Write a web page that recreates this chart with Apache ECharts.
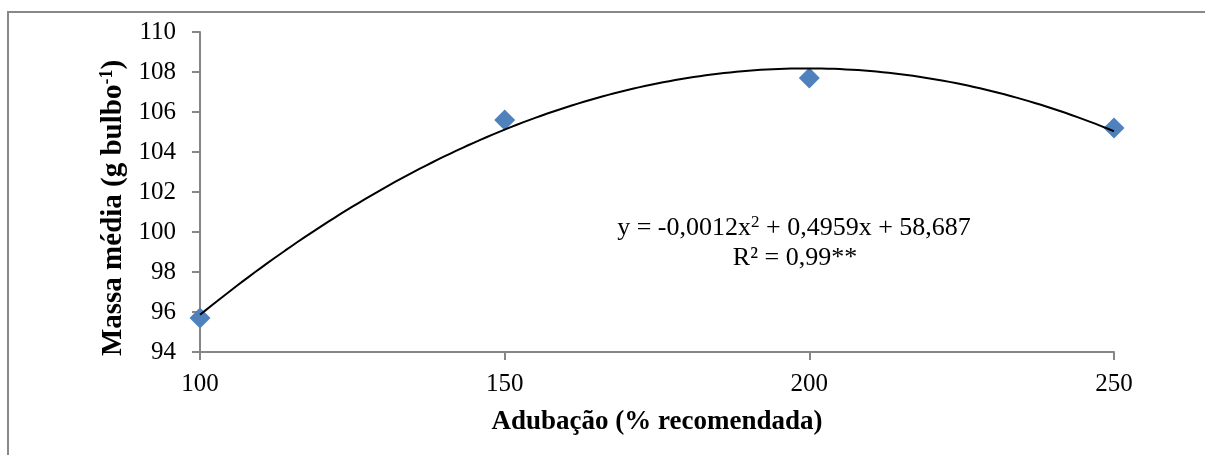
<!DOCTYPE html>
<html>
<head>
<meta charset="utf-8">
<script src="https://cdn.jsdelivr.net/npm/echarts@6/dist/echarts.min.js"></script>
<style>
  html, body { margin: 0; padding: 0; background: #fff; }
  #main { width: 1205px; height: 455px; }
</style>
</head>
<body>
<div id="main"></div>
<script>
// dados
const adubacao = [100, 150, 200, 250];
const massa = [95.7, 105.6, 107.7, 105.2];
const yTicks = [94, 110, 2];
const equacao = 'y = -0,0012x{sup|2} + 0,4959x + 58,687';
const r2 = 'R² = 0,99**';

// ajuste polinomial de 2º grau (mínimos quadrados), como a linha de tendência
function polyFit2(xs, ys) {
    let n = xs.length, s = [0, 0, 0, 0, 0], t = [0, 0, 0];
    for (let i = 0; i < n; i++) {
        let p = 1;
        for (let k = 0; k < 5; k++) {
            s[k] += p;
            if (k < 3) t[k] += p * ys[i];
            p *= xs[i];
        }
    }
    let m = [[s[0], s[1], s[2], t[0]], [s[1], s[2], s[3], t[1]], [s[2], s[3], s[4], t[2]]];
    for (let i = 0; i < 3; i++) {
        for (let j = i + 1; j < 3; j++) {
            let f = m[j][i] / m[i][i];
            for (let k = i; k < 4; k++) m[j][k] -= f * m[i][k];
        }
    }
    let c = [0, 0, 0];
    for (let i = 2; i >= 0; i--) {
        let v = m[i][3];
        for (let k = i + 1; k < 3; k++) v -= m[i][k] * c[k];
        c[i] = v / m[i][i];
    }
    return c;
}
const coef = polyFit2(adubacao, massa);
let tendencia = [];
for (let x = adubacao[0]; x <= adubacao[adubacao.length - 1]; x += 1) {
    tendencia.push([x, coef[0] + coef[1] * x + coef[2] * x * x]);
}

const serif = '"Liberation Serif", "Times New Roman", serif';
let chart = echarts.init(document.getElementById('main'));
chart.setOption({
    backgroundColor: '#fff',
    animation: false,
    textStyle: { fontFamily: serif },
    grid: { left: 200, right: 91, top: 32, bottom: 103 },
    xAxis: {
        type: 'value',
        min: 100, max: 250, interval: 50,
        name: 'Adubação (% recomendada)',
        nameLocation: 'middle',
        nameGap: 57,
        nameTextStyle: { fontFamily: serif, fontSize: 27, fontWeight: 'bold', color: '#000' },
        axisLine: { lineStyle: { color: '#868686', width: 2 } },
        axisTick: { show: true, length: 8, lineStyle: { color: '#868686', width: 2 } },
        axisLabel: { fontFamily: serif, fontSize: 25, color: '#000', margin: 20 },
        splitLine: { show: false }
    },
    yAxis: {
        type: 'value',
        min: yTicks[0], max: yTicks[1], interval: yTicks[2],
        name: 'Massa média (g bulbo{sup|-1})',
        nameLocation: 'middle',
        nameGap: 64,
        nameRotate: 90,
        nameTextStyle: {
            fontFamily: serif, fontSize: 29, fontWeight: 'bold', color: '#000',
            padding: [0, 32, 0, 0],
            rich: { sup: { fontFamily: serif, fontSize: 18, fontWeight: 'bold', color: '#000', verticalAlign: 'top', padding: [0, 0, 12, 0] } }
        },
        axisLine: { show: true, lineStyle: { color: '#868686', width: 2 } },
        axisTick: { show: true, length: 8, lineStyle: { color: '#868686', width: 2 } },
        axisLabel: { fontFamily: serif, fontSize: 25, color: '#000', margin: 24 },
        splitLine: { show: false }
    },
    graphic: [
        { type: 'rect', shape: { x: 8, y: 12, width: 1300, height: 500 },
          style: { fill: null, stroke: '#888', lineWidth: 2 }, silent: true },
        { type: 'text', x: 794, y: 228, style: {
            text: equacao, font: '26px ' + serif, fill: '#000', textAlign: 'center', textVerticalAlign: 'middle',
            rich: { sup: { fontFamily: serif, fontSize: 17, fill: '#000', padding: [0, 0, 10, 0] } } } },
        { type: 'text', x: 795, y: 258, style: { text: r2, font: '26px ' + serif, fill: '#000', textAlign: 'center', textVerticalAlign: 'middle' } }
    ],
    series: [{
        type: 'scatter',
        symbol: 'diamond',
        symbolSize: 21,
        itemStyle: { color: '#4F81BD', opacity: 1 },
        data: adubacao.map((x, i) => [x, massa[i]]),
        z: 2
    }, {
        type: 'line',
        showSymbol: false,
        lineStyle: { color: '#000', width: 2 },
        data: tendencia,
        z: 3
    }]
});
</script>
</body>
</html>
